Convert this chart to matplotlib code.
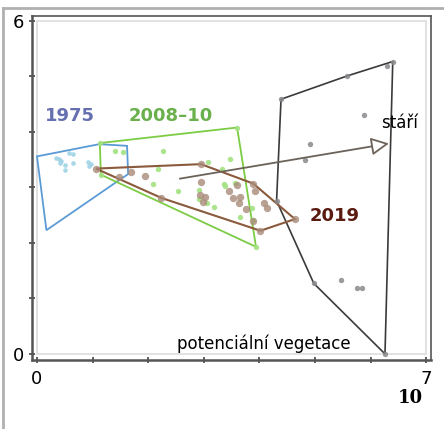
import matplotlib
matplotlib.use("Agg")
import matplotlib.pyplot as plt
from matplotlib.patches import Polygon, FancyArrowPatch
from matplotlib.lines import Line2D

# ---- data ----
hull_1975 = [(0.00, 3.56), (1.12, 3.78), (1.62, 3.75), (1.64, 3.24), (1.49, 3.14), (0.17, 2.23)]
pts_1975_x = [0.35, 0.44, 0.58, 0.64, 0.41, 0.50, 0.64, 0.50, 0.92, 0.98, 0.94, 0.40]
pts_1975_y = [3.53, 3.48, 3.62, 3.60, 3.44, 3.41, 3.44, 3.32, 3.46, 3.42, 3.39, 3.51]

hull_2008 = [(1.13, 3.80), (3.60, 4.08), (3.94, 1.93), (1.15, 3.23)]
pts_2008_x = [1.13, 3.60, 3.94, 1.15, 1.40, 1.54, 2.26, 2.17, 2.08, 2.54, 2.92, 3.07, 3.47,
              2.92, 3.38, 3.56, 3.05, 3.18, 3.32, 3.65, 3.86, 3.88, 3.36]
pts_2008_y = [3.80, 4.08, 1.93, 3.23, 3.65, 3.63, 3.65, 3.33, 3.06, 2.94, 2.95, 3.45, 3.51,
              2.79, 3.03, 3.08, 2.72, 2.65, 3.33, 2.46, 2.63, 2.41, 3.07]

hull_2019 = [(1.06, 3.34), (2.95, 3.42), (3.89, 3.07), (4.64, 2.43), (4.02, 2.22), (2.24, 2.81)]
pts_2019_x = [1.06, 1.70, 1.94, 1.48, 2.95, 2.95, 2.94, 3.02, 2.99, 3.46, 3.59, 3.53, 3.65,
              3.64, 3.76, 3.92, 3.89, 4.08, 4.14, 3.89, 4.02, 4.64, 2.24]
pts_2019_y = [3.34, 3.27, 3.21, 3.18, 3.42, 3.10, 2.86, 2.83, 2.74, 2.94, 3.05, 2.81, 2.83,
              2.72, 2.61, 2.94, 3.07, 2.72, 2.63, 2.40, 2.22, 2.43, 2.81]

hull_pot = [(4.39, 4.59), (5.58, 5.01), (6.40, 5.27), (6.26, 0.00), (4.98, 1.27), (4.31, 2.76)]
pts_pot_x = [4.39, 5.58, 6.29, 6.40, 5.89, 4.92, 4.83, 4.31, 5.47, 5.76, 5.85, 4.98, 6.26]
pts_pot_y = [4.59, 5.01, 5.18, 5.27, 4.31, 3.78, 3.50, 2.76, 1.33, 1.18, 1.19, 1.27, 0.00]

arrow_start = (2.52, 3.15)
arrow_end = (6.38, 3.80)

labels = {"1975": (0.59, 4.29), "2008–10": (2.41, 4.29), "2019": (5.36, 2.49)}

# ---- figure ----
fig = plt.figure(figsize=(4.44, 4.29), dpi=100)
ax = fig.add_axes([0.072, 0.1608, 0.899, 0.8019])
ax.set_xlim(-0.09, 7.09)
ax.set_ylim(-0.11, 6.09)

# outer gray border (left, top)
fig.add_artist(Line2D([0.007, 0.007], [0, 0.982], color="#b0b0b0", lw=2, transform=fig.transFigure))
fig.add_artist(Line2D([0.007, 1.0], [0.982, 0.982], color="#b0b0b0", lw=2, transform=fig.transFigure))

# inner light frame
ax.add_patch(Polygon([(0, 0), (7, 0), (7, 6), (0, 6)], closed=True, fill=False,
                     ec="#dddddd", lw=1.2, zorder=0))

# hulls
ax.add_patch(Polygon(hull_pot, closed=True, fill=False, ec="#3a3a3a", lw=1.2, zorder=2))
ax.add_patch(Polygon(hull_1975, closed=True, fill=False, ec="#5b9bd5", lw=1.3, zorder=2))
ax.add_patch(Polygon(hull_2008, closed=True, fill=False, ec="#7ccc44", lw=1.3, zorder=2))
ax.add_patch(Polygon(hull_2019, closed=True, fill=False, ec="#8b5a3c", lw=1.5, zorder=3))

# points
ax.scatter(pts_pot_x, pts_pot_y, s=15, color="#8a8a8e", alpha=0.85, lw=0, zorder=3)
ax.scatter(pts_1975_x, pts_1975_y, s=11, color="#9fd3e6", alpha=0.9, lw=0, zorder=3)
ax.scatter(pts_2008_x, pts_2008_y, s=15, color="#a3e282", alpha=0.9, lw=0, zorder=3)
ax.scatter(pts_2019_x, pts_2019_y, s=28, color="#a88a78", alpha=0.8, lw=0, zorder=4)

# arrow
ax.add_patch(FancyArrowPatch(arrow_start, arrow_end, arrowstyle="-|>,head_length=6,head_width=3",
                             mutation_scale=1.8, color="#6b625a", fc="white", lw=1.3, zorder=5))

# labels
ax.text(*labels["1975"], "1975", color="#6670b0", fontsize=13, fontweight="bold", ha="center", va="center")
ax.text(*labels["2008–10"], "2008–10", color="#6ab04c", fontsize=13, fontweight="bold", ha="center", va="center")
ax.text(*labels["2019"], "2019", color="#5a1a10", fontsize=13, fontweight="bold", ha="center", va="center")
ax.text(6.53, 4.16, "stáří", color="black", fontsize=12, ha="center", va="center")
ax.text(4.08, 0.18, "potenciální vegetace", color="black", fontsize=12, ha="center", va="center")

# axes styling
for side in ["left", "bottom", "right", "top"]:
    ax.spines[side].set_color("#555555")
    ax.spines[side].set_linewidth(1.8)
ax.spines["right"].set_linewidth(1.2)
ax.spines["top"].set_linewidth(1.2)

ax.set_xticks(range(0, 8))
ax.set_xticklabels(["0", "", "", "", "", "", "", "7"])
ax.set_yticks(range(0, 7))
ax.set_yticklabels(["0", "", "", "", "", "", "6"])
ax.tick_params(direction="inout", length=5, width=1.2, color="#444444", labelsize=13, pad=3)
ax.tick_params(axis="x", pad=5)

fig.text(0.925, 0.072, "10", family="DejaVu Serif", fontweight="bold", fontsize=13, ha="center", va="center")

fig.savefig("out.png", dpi=100)
